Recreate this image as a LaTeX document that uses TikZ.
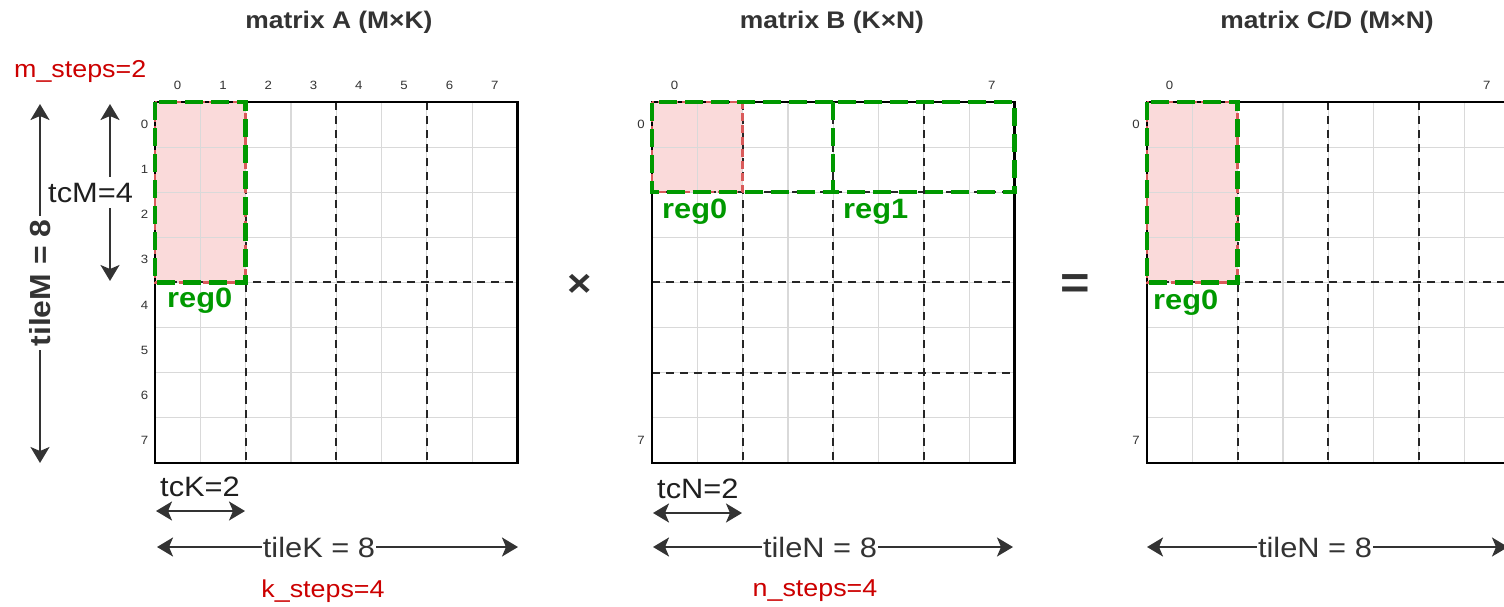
\documentclass[tikz,border=0pt]{standalone}
\usepackage{fontspec}
\setmainfont{Liberation Sans}[FakeStretch=1.1]
\usetikzlibrary{arrows.meta}
\definecolor{tdark}{HTML}{333333}
\definecolor{tblack}{HTML}{1F1F1F}
\definecolor{gridgray}{HTML}{D9D9D9}
\definecolor{gridblack}{HTML}{262626}
\definecolor{regGreen}{HTML}{009900}
\definecolor{regRed}{HTML}{D95A5A}
\definecolor{regPink}{HTML}{FADADA}
\definecolor{stepRed}{HTML}{CC0000}
\newcommand\setfs[1]{\fontsize{#1pt}{#1pt}\selectfont}
\tikzset{
 gridl/.style={draw=gridgray, line width=1.2pt},
 dashl/.style={draw=gridblack, line width=2pt, dash pattern=on 8pt off 6pt},
 border/.style={draw=black, line width=2.2pt},
 redout/.style={draw=regRed, line width=2.5pt, dash pattern=on 8pt off 4pt},
 greenout/.style={draw=regGreen, line width=4.5pt, dash pattern=on 18pt off 8pt},
 idx/.style={font=\setfs{12}, text=tdark, inner sep=0pt},
 title/.style={font=\setfs{24}\bfseries, text=tdark, inner sep=0pt, anchor=base},
 steps/.style={font=\setfs{24.4}, text=stepRed, inner sep=0pt, anchor=base},
 dim/.style={font=\setfs{28}, text=tdark, inner sep=0pt},
 tcl/.style={font=\setfs{28}, text=tblack, inner sep=0pt, anchor=base west},
 regl/.style={font=\setfs{28}\bfseries, text=regGreen, inner sep=0pt, anchor=base west},
 arr/.style={draw=tdark, line width=2pt,
   arrows={Stealth[length=16pt,width=19pt,inset=4pt]-Stealth[length=16pt,width=19pt,inset=4pt]}},
 opsym/.style={text=tdark, inner sep=0pt},
}
\begin{document}
\begin{tikzpicture}[x=1pt,y=-1pt]
\useasboundingbox (0,0) rectangle (1504,606);
\clip (0,0) rectangle (1504,606);
\fill[white] (0,0) rectangle (1504,606);

% ---------- matrix A ----------
\begin{scope}[xshift=155pt,yshift=-102pt,x=45.3pt,y=-45.1pt]
 \fill[regPink] (0,0) rectangle (2,4);
 \foreach \i in {1,...,7}{\draw[gridl] (\i,0) -- (\i,8); \draw[gridl] (0,\i) -- (8,\i);}
 \foreach \i in {2,4,6}{\draw[dashl] (\i,0) -- (\i,8);}
 \draw[dashl] (0,4) -- (8,4);
 \draw[border] (0,0) rectangle (8,8);
 \draw[redout] (0,0) rectangle (2,4);
 \draw[greenout] (0,0) rectangle (2,4);
 \foreach \i in {0,...,7}{
   \node[idx] (A-c\i) at (\i+0.5,-0.36) {\i};
   \node[idx] (A-r\i) at (-0.23,\i+0.5) {\i};}
\end{scope}

% ---------- matrix B ----------
\begin{scope}[xshift=652pt,yshift=-102pt,x=45.3pt,y=-45.1pt]
 \fill[regPink] (0,0) rectangle (2,2);
 \foreach \i in {1,...,7}{\draw[gridl] (\i,0) -- (\i,8); \draw[gridl] (0,\i) -- (8,\i);}
 \foreach \i in {2,4,6}{\draw[dashl] (\i,0) -- (\i,8); \draw[dashl] (0,\i) -- (8,\i);}
 \draw[border] (0,0) rectangle (8,8);
 \draw[redout] (0,0) rectangle (2,2);
 \draw[greenout] (4,0) -- (0,0) -- (0,2) -- (4,2);
 \draw[greenout] (4,0) rectangle (8,2);
 \node[idx] (B-c0) at (0.5,-0.36) {0};
 \node[idx] (B-c7) at (7.5,-0.36) {7};
 \node[idx] (B-r0) at (-0.24,0.5) {0};
 \node[idx] (B-r7) at (-0.24,7.5) {7};
\end{scope}

% ---------- matrix C/D ----------
\begin{scope}[xshift=1147pt,yshift=-102pt,x=45.3pt,y=-45.1pt]
 \fill[regPink] (0,0) rectangle (2,4);
 \foreach \i in {1,...,7}{\draw[gridl] (\i,0) -- (\i,8); \draw[gridl] (0,\i) -- (8,\i);}
 \foreach \i in {2,4,6}{\draw[dashl] (\i,0) -- (\i,8);}
 \draw[dashl] (0,4) -- (8,4);
 \draw[border] (0,0) rectangle (8,8);
 \draw[redout] (0,0) rectangle (2,4);
 \draw[greenout] (0,0) rectangle (2,4);
 \node[idx] (C-c0) at (0.5,-0.36) {0};
 \node[idx] (C-c7) at (7.5,-0.36) {7};
 \node[idx] (C-r0) at (-0.24,0.5) {0};
 \node[idx] (C-r7) at (-0.24,7.5) {7};
\end{scope}

% ---------- titles ----------
\node[title] (tA) at (339,28) {matrix A (M×K)};
\node[title] (tB) at (832,28) {matrix B (K×N)};
\node[title] (tC) at (1327,28) {matrix C/D (M×N)};

% ---------- step labels ----------
\node[steps, anchor=base west] (msteps) at (14,77) {m\_steps=2};
\node[steps] (ksteps) at (323,597) {k\_steps=4};
\node[steps] (nsteps) at (815,596) {n\_steps=4};

% ---------- reg labels ----------
\node[regl] (regA) at (167,307) {reg0};
\node[regl] (regB0) at (662,218) {reg0};
\node[regl] (regB1) at (843,218) {reg1};
\node[regl] (regC) at (1153,309) {reg0};

% ---------- operators ----------
\node[opsym, font=\setfs{38}\bfseries] (times) at (580,285) {×};
\node[opsym, font=\setfs{46}\bfseries] (equals) at (1075,287) {=};

% ---------- dimension arrows ----------
\coordinate (mT) at (40,104);  \coordinate (mB) at (40,463);
\draw[arr] (mT) -- (mB);
\node[dim, font=\setfs{29}\bfseries, rotate=90, fill=white, inner xsep=4pt, inner ysep=2pt] (tileM) at (40,283) {tileM = 8};

\coordinate (tcmT) at (110,104); \coordinate (tcmB) at (110,281);
\draw[arr] (tcmT) -- (tcmB);
\node[tcl, fill=white, inner xsep=0pt, inner ysep=6pt] (tcM) at (48,202) {tcM=4};

\coordinate (tckL) at (156,511); \coordinate (tckR) at (245,511);
\draw[arr] (tckL) -- (tckR);
\node[tcl] (tcK) at (160,496) {tcK=2};

\coordinate (tcnL) at (653,513); \coordinate (tcnR) at (742,513);
\draw[arr] (tcnL) -- (tcnR);
\node[tcl] (tcN) at (657,498) {tcN=2};

\coordinate (kL) at (157,547); \coordinate (kR) at (518,547);
\draw[arr] (kL) -- (kR);
\node[dim, fill=white, inner xsep=1pt, inner ysep=2pt] (tileK) at (319,547) {tileK = 8};

\coordinate (nL) at (653,547); \coordinate (nR) at (1013,547);
\draw[arr] (nL) -- (nR);
\node[dim, fill=white, inner xsep=1pt, inner ysep=2pt] (tileN) at (820,547) {tileN = 8};

\coordinate (cL) at (1147,547); \coordinate (cR) at (1508,547);
\draw[arr] (cL) -- (cR);
\node[dim, fill=white, inner xsep=1pt, inner ysep=2pt] (tileNC) at (1315,547) {tileN = 8};
\end{tikzpicture}
\end{document}
